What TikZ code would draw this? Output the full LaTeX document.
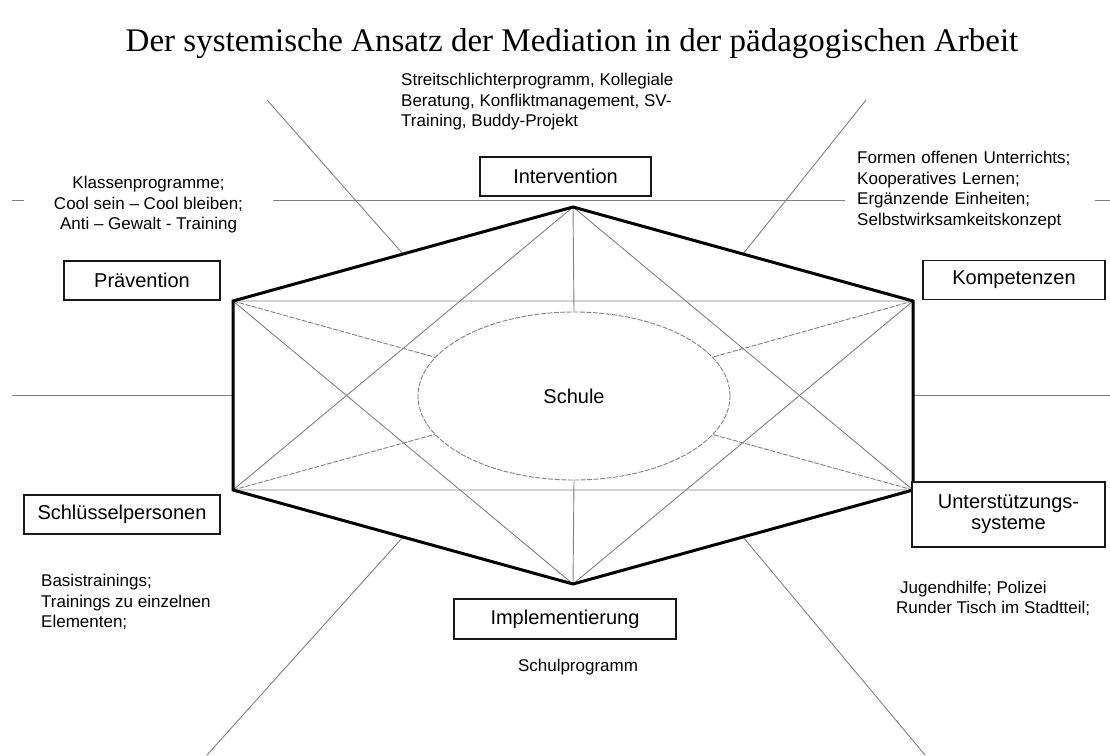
\documentclass[tikz,border=0pt]{standalone}
\usepackage{fontspec}
\setmainfont{Liberation Sans}
\newfontfamily\headfont{Liberation Serif}
\usetikzlibrary{shapes.geometric,calc}

\tikzset{
  labelbox/.style={draw=black!90, line width=1.5pt, fill=white, minimum height=39pt,
    inner sep=0pt, align=center, font=\fontsize{20}{21}\selectfont},
  notes/.style={inner sep=0pt, font=\fontsize{17}{20.5}\selectfont},
  hairline/.style={draw=gray, line width=0.9pt},
  spoke/.style={draw=gray, line width=0.9pt, dash pattern=on 5pt off 1.5pt},
  rim/.style={draw=black, line width=3pt, line join=miter}
}

\begin{document}
\begin{tikzpicture}[x=1pt,y=-1pt]
  \useasboundingbox (0,0) rectangle (1110,755);

  \node[font=\headfont\fontsize{33}{36}\selectfont, anchor=base] (title) at (572,51)
    {Der systemische Ansatz der Mediation in der pädagogischen Arbeit};

  \coordinate (T)  at (573,207);
  \coordinate (UR) at (913,301);
  \coordinate (LR) at (913,490);
  \coordinate (B)  at (573,584);
  \coordinate (LL) at (233,490);
  \coordinate (UL) at (233,301);

  \coordinate (w0) at (12,200);  \coordinate (e0) at (1110,200);
  \coordinate (w1) at (12,395);  \coordinate (e1) at (1110,395);
  \coordinate (nw) at (267,100); \coordinate (ne) at (866,100);
  \coordinate (sw) at (207,755); \coordinate (se) at (925,755);

  \node[ellipse, spoke, minimum width=312pt, minimum height=168pt, inner sep=0pt,
    font=\fontsize{20}{21}\selectfont] (schule) at (574,396) {Schule};

  \begin{scope}[hairline]
    \draw (w0) -- (e0);
    \draw (w1) -- (UL |- w1);
    \draw (UR |- e1) -- (e1);
    \draw (nw) -- ($(UL)!0.5!(T)$);
    \draw (ne) -- ($(T)!0.5!(UR)$);
    \draw (sw) -- ($(LL)!0.5!(B)$);
    \draw (se) -- ($(B)!0.5!(LR)$);
    \draw (T) -- (LR) -- (LL) -- cycle;
    \draw (UL) -- (UR) -- (B) -- cycle;
    \draw (T) -- (schule.north) (schule.south) -- (B);
  \end{scope}
  \foreach \v in {UL,UR,LL,LR}
    \draw[spoke] (\v) -- (schule);

  \draw[rim] (T) -- (UR) -- (LR) -- (B) -- (LL) -- (UL) -- cycle;

  \node[labelbox, minimum width=171pt] (interv) at (565.5,176.5) {Intervention};
  \node[labelbox, minimum width=156pt] (praev) at (142,280.5) {Prävention};
  \node[labelbox, minimum width=182pt] (komp) at (1014,280) {Kompetenzen};
  \node[labelbox, minimum width=196pt] (schluessel) at (122,514.5) {Schlüsselpersonen};
  \node[labelbox, minimum width=222pt, minimum height=40pt] (impl) at (565,619) {Implementierung};
  \node[labelbox, minimum width=193pt, minimum height=65pt] (unterst) at (1008.5,514.5)
    {Unterstützungs-\\systeme};

  \node[notes, anchor=west, align=left] (streit) at (401,102)
    {Streitschlichterprogramm, Kollegiale\\Beratung, Konfliktmanagement, SV-\\Training, Buddy-Projekt};
  \node[notes, align=center, fill=white, minimum width=249pt, inner ysep=5pt] (klassen) at (148.5,205)
    {Klassenprogramme;\\Cool sein – Cool bleiben;\\Anti – Gewalt - Training};
  \node[notes, anchor=west, align=left, fill=white, inner xsep=12pt, inner ysep=5pt,
    text width=226pt] (formen) at (845,190)
    {Formen offenen Unterrichts;\\Kooperatives Lernen;\\Ergänzende Einheiten;\\Selbstwirksamkeitskonzept};
  \node[notes, anchor=west, align=left] (basis) at (41,602)
    {Basistrainings;\\Trainings zu einzelnen\\Elementen;};
  \node[notes] (schulprog) at (578,667) {Schulprogramm};
  \node[notes, anchor=west, align=left] (jugend) at (896,598.5)
    {\hspace{4pt}Jugendhilfe; Polizei\\Runder Tisch im Stadtteil;};
\end{tikzpicture}
\end{document}
